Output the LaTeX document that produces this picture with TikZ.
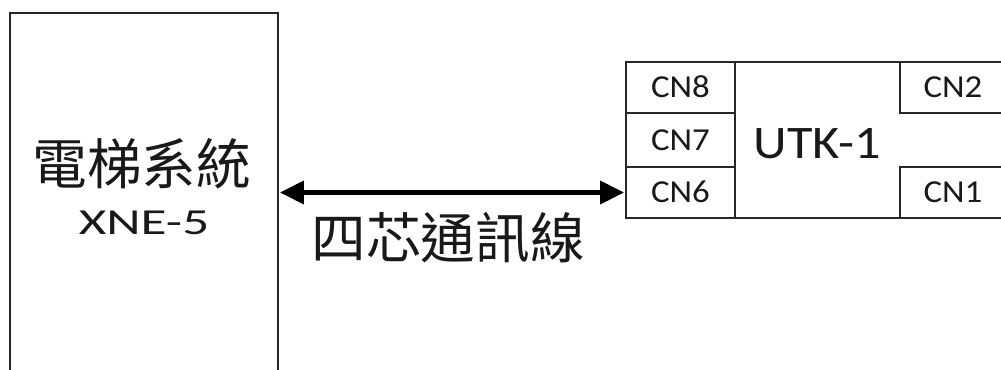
\documentclass[tikz,border=0pt]{standalone}
\usepackage{fontspec}
\setmainfont{Carlito}
\newfontfamily\cjk{Noto Sans CJK TC}
\usetikzlibrary{arrows.meta}
\newcommand{\lat}[3]{\scalebox{#2}[1]{\fontsize{#1}{#1}\selectfont #3}}
\tikzset{
  boxline/.style={draw=black!85, line width=1.7pt},
  cell/.style={boxline, inner sep=0pt, minimum width=81.75pt},
  txt/.style={inner sep=0pt, text=black!90},
  link/.style={line width=3.6pt, black, {Triangle[length=18pt,width=17pt]}-{Triangle[length=18pt,width=17pt]}, shorten <=0.6pt, shorten >=0.6pt}
}
\begin{document}
\begin{tikzpicture}[x=0.75pt,y=-0.75pt]
\useasboundingbox (0,0) rectangle (1001,369);
% left system box (bottom edge outside the picture)
\node[boxline, inner sep=0pt, minimum width=201pt, minimum height=305pt] (sys) at (144,216.5) {};
\node[txt] (systxt) at (142,163.5) {\cjk\fontsize{41}{41}\selectfont 電梯系統};
\node[txt, anchor=base] (sysname) at (144,234) {\lat{27.5}{1.45}{XNE-5}};
% UTK-1 board (right edge outside the picture)
\node[boxline, inner sep=0pt, minimum width=285pt, minimum height=117pt] (utk) at (816,140) {};
\node[txt, anchor=base] (utktxt) at (817.5,158.5) {\lat{35}{1.12}{UTK-1}};
\node[cell, minimum height=38.25pt] (cn8) at (680.5,87.5) {};
\node[cell, minimum height=40.5pt] (cn7) at (680.5,140) {};
\node[cell, minimum height=38.25pt] (cn6) at (680.5,192.5) {};
\node[cell, minimum width=79.5pt, minimum height=38.25pt] (cn2) at (953,87.5) {};
\node[cell, minimum width=79.5pt, minimum height=38.25pt] (cn1) at (953,192.5) {};
\node[txt, anchor=base] at ([yshift=-7.5pt]cn8.center) {\lat{24}{1.09}{CN8}};
\node[txt, anchor=base] at ([yshift=-7.5pt]cn7.center) {\lat{24}{1.09}{CN7}};
\node[txt, anchor=base] at ([yshift=-7.5pt]cn6.center) {\lat{24}{1.09}{CN6}};
\node[txt, anchor=base] at ([yshift=-7.5pt]cn2.center) {\lat{24}{1.09}{CN2}};
\node[txt, anchor=base] at ([yshift=-7.5pt]cn1.center) {\lat{24}{1.09}{CN1}};
% four-core communication cable
\draw[link] (sys.east |- cn6.west) -- (cn6.west);
\node[txt] (lbl) at (448,237.5) {\cjk\fontsize{41}{41}\selectfont 四芯通訊線};
\end{tikzpicture}
\end{document}
